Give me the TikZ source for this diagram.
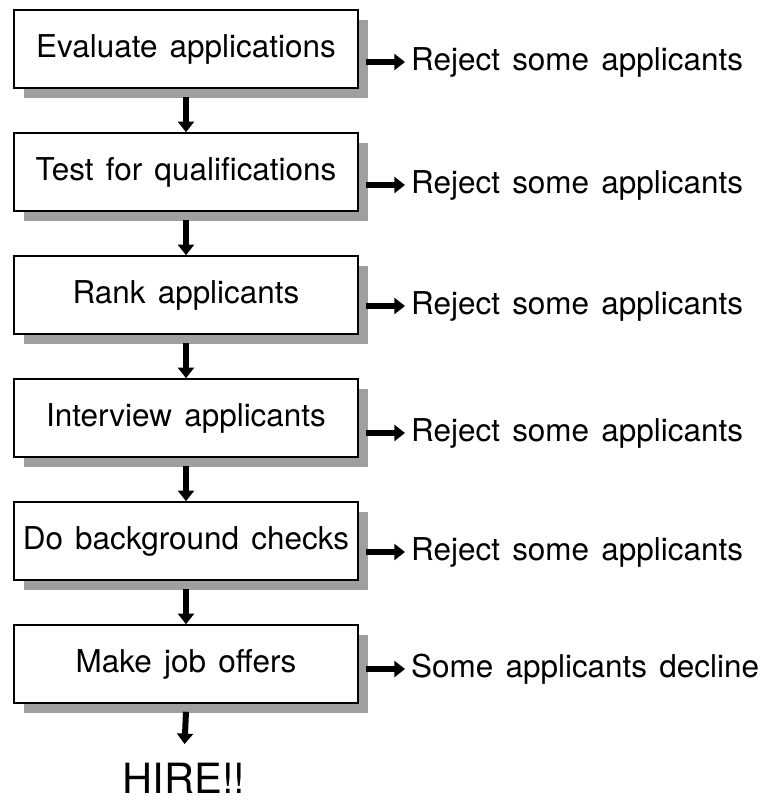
\documentclass[tikz,border=0pt]{standalone}
\usepackage{fontspec}
\setmainfont{TeX Gyre Heros}[WordSpace=1.4]
\usetikzlibrary{arrows.meta,shadows}

\begin{document}
\begin{tikzpicture}[x=0.02cm, y=-0.02cm,
  stepbox/.style={draw, line width=0.9pt, fill=white, minimum width=6.88cm, minimum height=1.56cm,
    font=\fontsize{17.9}{21}\selectfont,
    drop shadow={shadow xshift=0.2cm, shadow yshift=-0.2cm, fill=gray!75, opacity=1}},
  outcome/.style={anchor=west, font=\fontsize{17.9}{21}\selectfont},
  arr/.style={line width=3.4pt, -{Triangle[length=6pt, width=9pt]}}]
\useasboundingbox (0,0) rectangle (765,800);

% boxes
\node[stepbox] (b1) at (186,49)  {Evaluate applications};
\node[stepbox] (b2) at (186,172) {Test for qualifications};
\node[stepbox] (b3) at (186,295) {Rank applicants};
\node[stepbox] (b4) at (186,418) {Interview applicants};
\node[stepbox] (b5) at (186,541) {Do background checks};
\node[stepbox] (b6) at (186,664) {Make job offers};
\node[font=\fontsize{23.7}{28}\selectfont] (hire) at (184,778) {HIRE!!};

% outcomes
\node[outcome] (r1) at (405,62)  {Reject some applicants};
\node[outcome] (r2) at (405,185) {Reject some applicants};
\node[outcome] (r3) at (405,306) {Reject some applicants};
\node[outcome] (r4) at (405,433) {Reject some applicants};
\node[outcome] (r5) at (405,552) {Reject some applicants};
\node[outcome] (r6) at (405,669) {Some applicants decline};

% arrows
\foreach \i/\j in {1/2,2/3,3/4,4/5,5/6}
  \draw[arr] ([yshift=-0.16cm]b\i.south) -- (b\j.north);
\draw[arr, shorten >=0.25cm] ([yshift=-0.16cm]b6.south) -- (hire.north);
\foreach \i in {1,...,6}
  \draw[arr] ([xshift=0.15cm]b\i.east |- r\i.west) -- (r\i.west);

\end{tikzpicture}
\end{document}
